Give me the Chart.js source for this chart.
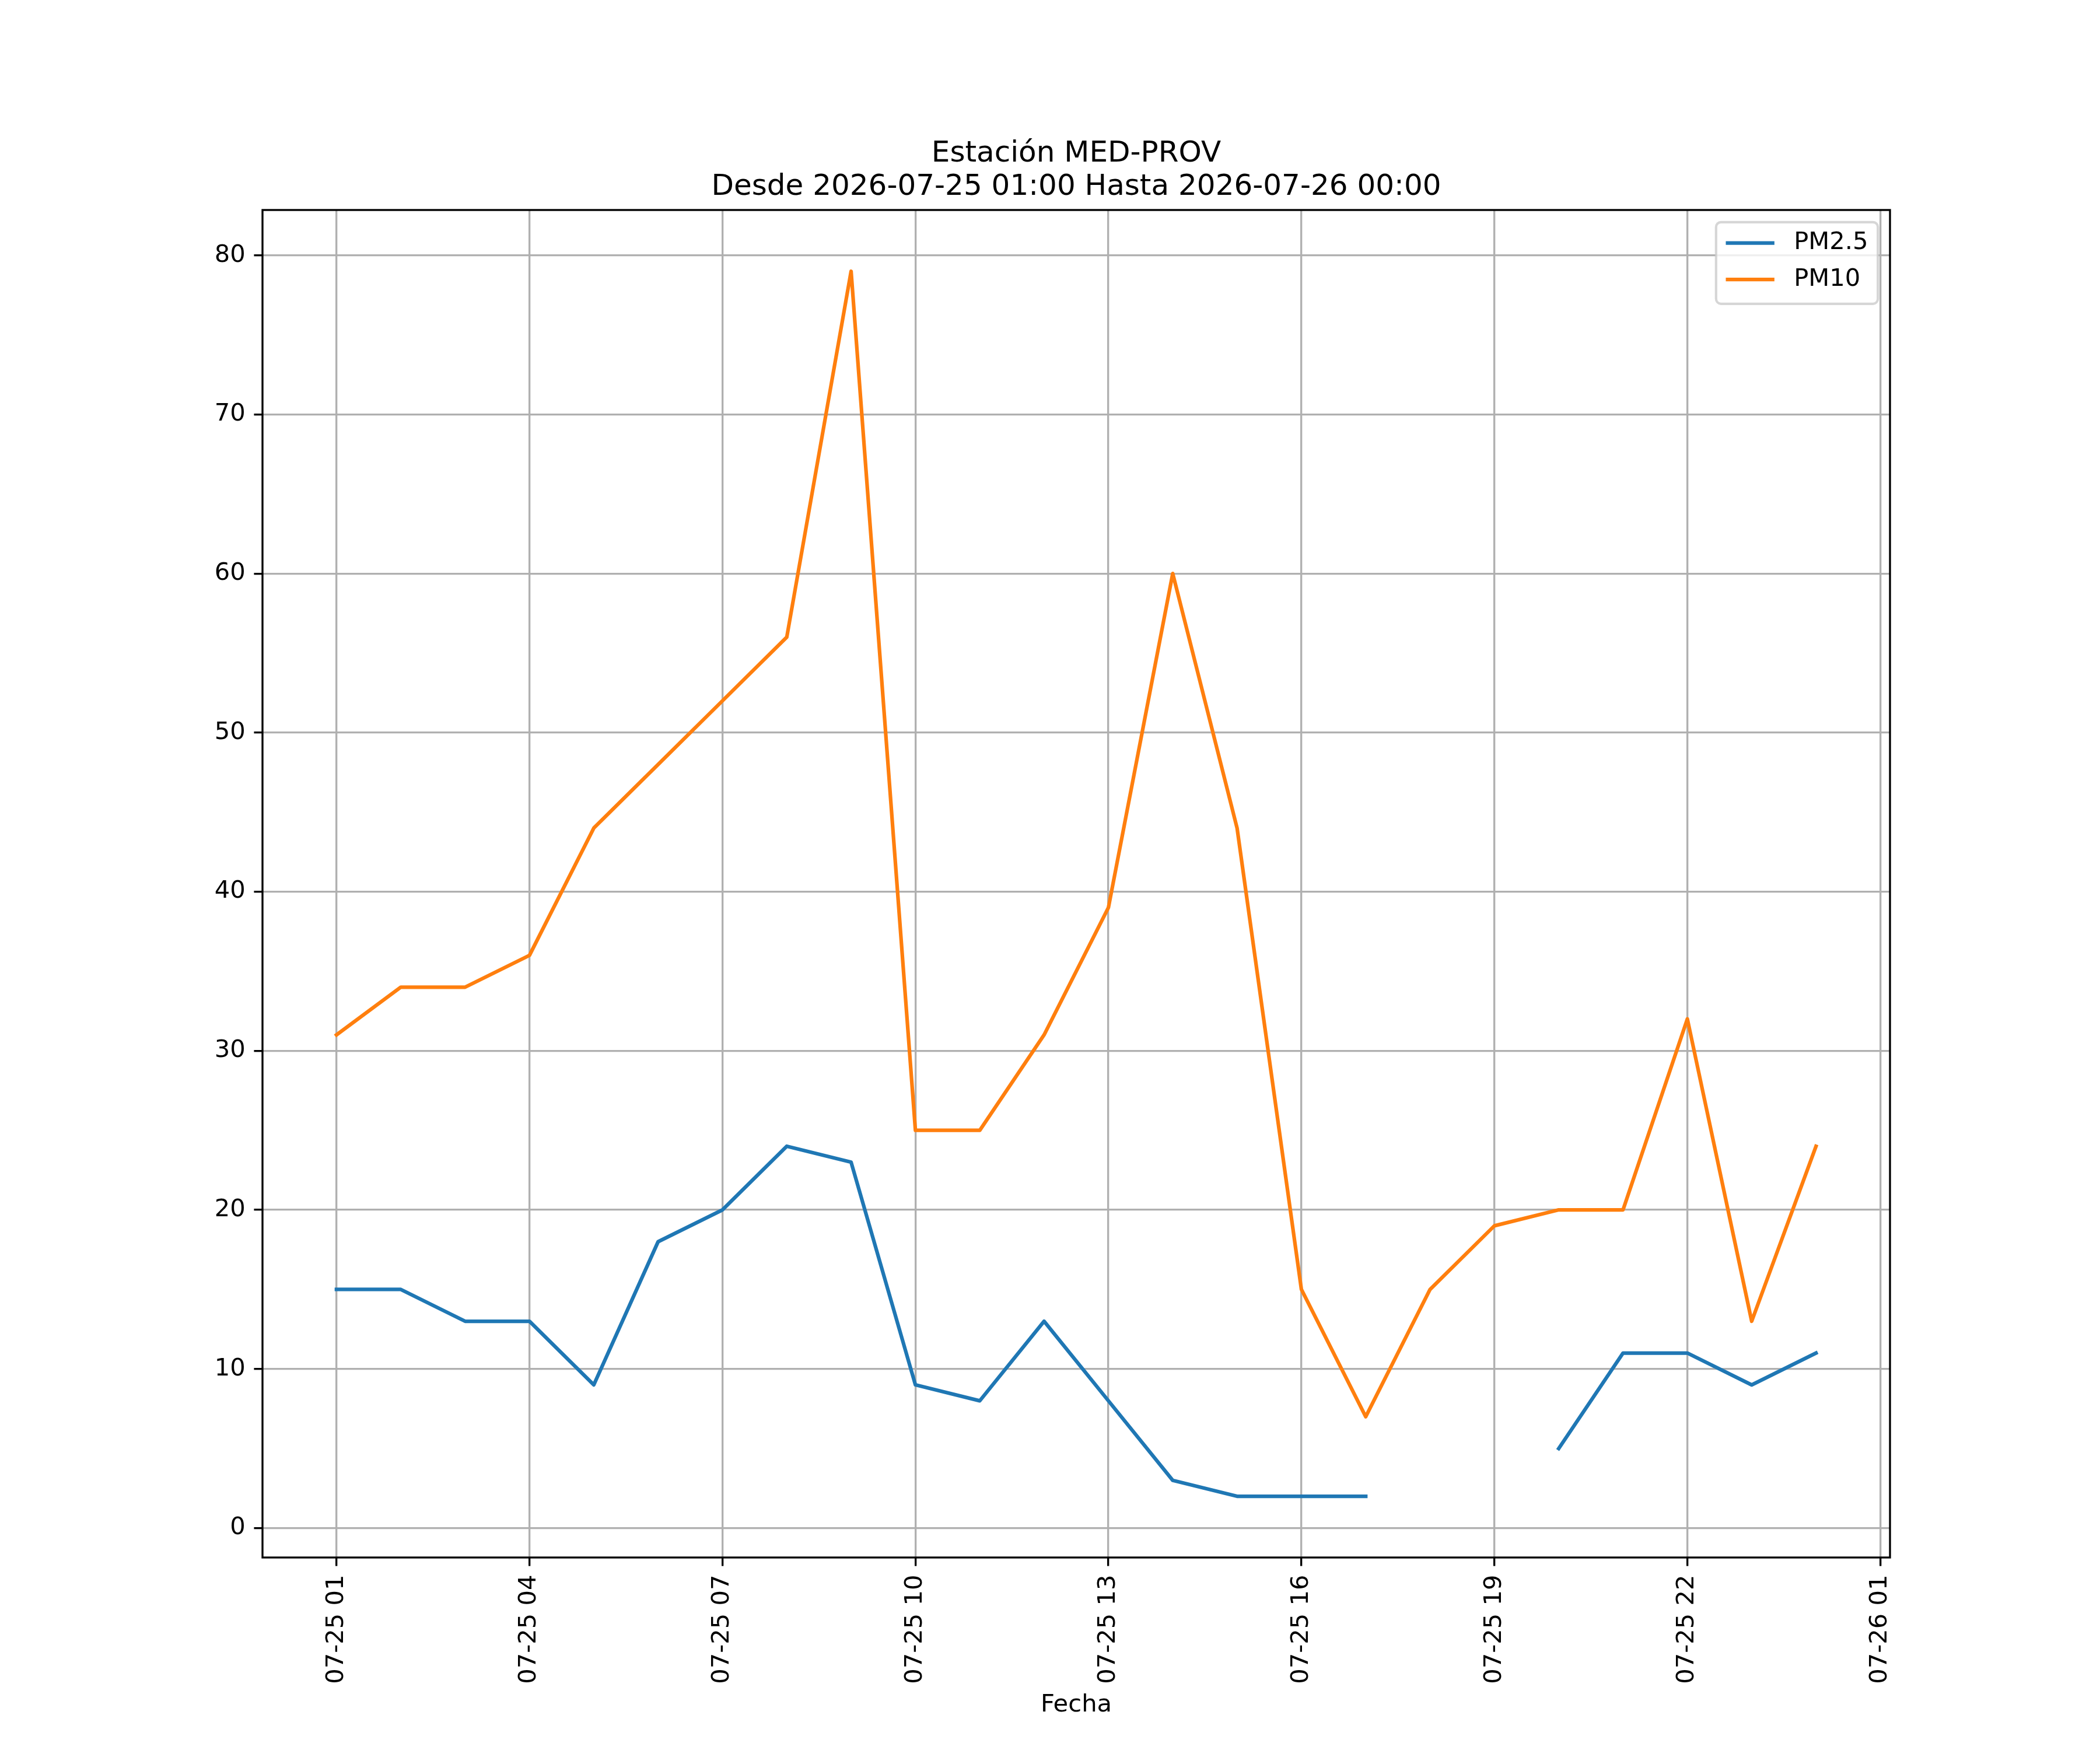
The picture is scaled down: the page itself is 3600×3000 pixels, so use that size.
<!DOCTYPE html>
<html lang="es">
<head>
    <meta charset="UTF-8">
    <title>Estación MED-PROV</title>
    <script src="https://cdn.jsdelivr.net/npm/chart.js"></script>
    <style>
        body { margin: 0; background: #fff; }
        canvas { display: block; }
    </style>
</head>
<body>
    <canvas id="pmChart" width="3600" height="3000" style="width:3600px;height:3000px"></canvas>

    <script>
    // horas desde 2026-07-25 00:00
    const hours = [1, 2, 3, 4, 5, 6, 7, 8, 9, 10, 11, 12, 13, 14, 15, 16, 17, 18, 19, 20, 21, 22, 23, 24];
    const pm25 = [15, 15, 13, 13, 9, 18, 20, 24, 23, 9, 8, 13, 8, 3, 2, 2, 2, null, null, 5, 11, 11, 9, 11];
    const pm10 = [31, 34, 34, 36, 44, 48, 52, 56, 79, 25, 25, 31, 39, 60, 44, 15, 7, 15, 19, 20, 20, 32, 13, 24];

    const xTickValues = [1, 4, 7, 10, 13, 16, 19, 22, 25];
    const xTickLabels = ['07-25 01', '07-25 04', '07-25 07', '07-25 10', '07-25 13', '07-25 16', '07-25 19', '07-25 22', '07-26 01'];
    const yTickValues = [0, 10, 20, 30, 40, 50, 60, 70, 80];

    const titleLines = ['Estación MED-PROV', 'Desde 2026-07-25 01:00 Hasta 2026-07-26 00:00'];
    const seriesNames = ['PM2.5', 'PM10'];
    const seriesColors = ['#1f77b4', '#ff7f0e'];

    const FONT = 'DejaVu Sans';
    const PT = 300 / 72;   // figura a 300 dpi

    // margen del 5% como matplotlib
    const allY = pm25.concat(pm10).filter(v => v !== null);
    const yLo = Math.min(...allY), yHi = Math.max(...allY);
    const xLo = Math.min(...hours), xHi = Math.max(...hours);
    const xPad = (xHi - xLo) * 0.05, yPad = (yHi - yLo) * 0.05;

    const framePlugin = {
        id: 'frame',
        afterDatasetsDraw(chart) {
            const { ctx, chartArea: { left, right, top, bottom } } = chart;
            ctx.save();
            ctx.strokeStyle = '#000';
            ctx.lineWidth = 0.8 * PT;
            ctx.lineJoin = 'miter';
            ctx.strokeRect(left, top, right - left, bottom - top);
            ctx.restore();
        },
        afterDraw(chart) {
            // leyenda dentro del área, arriba a la derecha
            const { ctx, chartArea } = chart;
            const fs = 10 * PT;
            ctx.save();
            ctx.font = `${fs}px "${FONT}"`;
            const textW = Math.max(...seriesNames.map(n => ctx.measureText(n).width));
            const handle = 2 * fs, gap = 0.8 * fs, padIn = 0.4 * fs, rowH = 1.5 * fs;
            const boxW = padIn + handle + gap + textW + padIn;
            const boxH = 3.36 * fs;
            const x0 = chartArea.right - 0.5 * fs - boxW;
            const y0 = chartArea.top + 0.5 * fs;

            ctx.beginPath();
            ctx.roundRect(x0, y0, boxW, boxH, 0.2 * fs);
            ctx.fillStyle = 'rgba(255,255,255,0.8)';
            ctx.fill();
            ctx.strokeStyle = 'rgba(204,204,204,0.8)';
            ctx.lineWidth = 1 * PT;
            ctx.stroke();

            seriesNames.forEach((name, i) => {
                const cy = y0 + 0.86 * fs + rowH * i;
                ctx.strokeStyle = seriesColors[i];
                ctx.lineWidth = 1.5 * PT;
                ctx.beginPath();
                ctx.moveTo(x0 + padIn, cy);
                ctx.lineTo(x0 + padIn + handle, cy);
                ctx.stroke();
                ctx.fillStyle = '#000';
                ctx.textBaseline = 'middle';
                ctx.textAlign = 'left';
                ctx.fillText(name, x0 + padIn + handle + gap, cy);
            });
            ctx.restore();
        }
    };

    const ctx = document.getElementById('pmChart').getContext('2d');
    new Chart(ctx, {
        type: 'line',
        data: {
            datasets: [
                {
                    label: seriesNames[0],
                    data: hours.map((h, i) => ({ x: h, y: pm25[i] })),
                    borderColor: seriesColors[0],
                    backgroundColor: seriesColors[0],
                    borderWidth: 1.5 * PT,
                    borderJoinStyle: 'round',
                    borderCapStyle: 'square',
                    pointRadius: 0,
                    tension: 0,
                    spanGaps: false
                },
                {
                    label: seriesNames[1],
                    data: hours.map((h, i) => ({ x: h, y: pm10[i] })),
                    borderColor: seriesColors[1],
                    backgroundColor: seriesColors[1],
                    borderWidth: 1.5 * PT,
                    borderJoinStyle: 'round',
                    borderCapStyle: 'square',
                    pointRadius: 0,
                    tension: 0,
                    spanGaps: false
                }
            ]
        },
        options: {
            responsive: false,
            animation: false,
            devicePixelRatio: 1,
            layout: { padding: { left: 0, right: 360, top: 0, bottom: 0 } },
            plugins: {
                legend: { display: false },
                tooltip: { enabled: false },
                title: {
                    display: true,
                    fullSize: false,
                    text: titleLines,
                    color: '#000',
                    font: { family: FONT, size: 12 * PT, weight: 'normal', lineHeight: 1.15 },
                    padding: { top: 235, bottom: 10 }
                }
            },
            scales: {
                x: {
                    type: 'linear',
                    min: xLo - xPad,
                    max: xHi + xPad,
                    afterBuildTicks: scale => { scale.ticks = xTickValues.map(v => ({ value: v })); },
                    afterFit: scale => { scale.height = 330; },
                    ticks: {
                        autoSkip: false,
                        minRotation: 90,
                        maxRotation: 90,
                        padding: 15,
                        color: '#000',
                        font: { family: FONT, size: 10 * PT },
                        callback: (v) => xTickLabels[xTickValues.indexOf(v)]
                    },
                    grid: {
                        color: '#b0b0b0',
                        lineWidth: 0.8 * PT,
                        drawTicks: true,
                        tickLength: 3.5 * PT,
                        tickColor: '#000',
                        tickWidth: 0.8 * PT
                    },
                    border: { display: false },
                    title: {
                        display: true,
                        text: 'Fecha',
                        color: '#000',
                        font: { family: FONT, size: 10 * PT },
                        padding: { top: 0, bottom: 52 }
                    }
                },
                y: {
                    type: 'linear',
                    min: yLo - yPad,
                    max: yHi + yPad,
                    afterBuildTicks: scale => { scale.ticks = yTickValues.map(v => ({ value: v })); },
                    afterFit: scale => { scale.width = 450; },
                    ticks: {
                        padding: 3.5 * PT,
                        color: '#000',
                        font: { family: FONT, size: 10 * PT },
                        callback: v => String(v)
                    },
                    grid: {
                        color: '#b0b0b0',
                        lineWidth: 0.8 * PT,
                        drawTicks: true,
                        tickLength: 3.5 * PT,
                        tickColor: '#000',
                        tickWidth: 0.8 * PT
                    },
                    border: { display: false }
                }
            }
        },
        plugins: [framePlugin]
    });
    </script>
</body>
</html>
